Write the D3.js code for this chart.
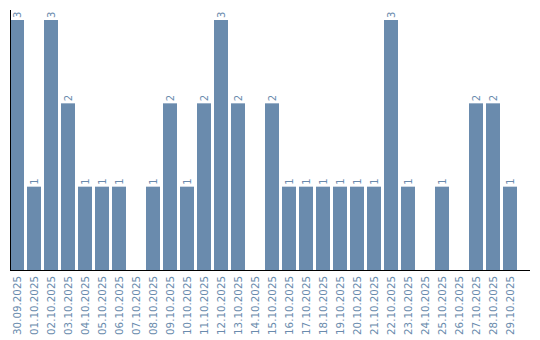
<!DOCTYPE html>
<html><head><meta charset="utf-8">
<script src="https://cdn.jsdelivr.net/npm/d3@7"></script>
<style>body{margin:0;background:#fff;} svg{display:block;}</style>
</head><body>
<script>
const categories = ["30.09.2025","01.10.2025","02.10.2025","03.10.2025","04.10.2025","05.10.2025","06.10.2025","07.10.2025","08.10.2025","09.10.2025","10.10.2025","11.10.2025","12.10.2025","13.10.2025","14.10.2025","15.10.2025","16.10.2025","17.10.2025","18.10.2025","19.10.2025","20.10.2025","21.10.2025","22.10.2025","23.10.2025","24.10.2025","25.10.2025","26.10.2025","27.10.2025","28.10.2025","29.10.2025"];
const values = [3,1,3,2,1,1,1,0,1,2,1,2,3,2,0,2,1,1,1,1,1,1,3,1,0,1,0,2,2,1];

const W = 540, H = 340;
const color = "#6a8bad";
const svg = d3.select("body").append("svg").attr("width", W).attr("height", H);

const x = d3.scaleBand().domain(categories).range([10, 517]).paddingInner(3/17).paddingOuter(0);
const y = d3.scaleLinear().domain([0, 3]).range([270, 20]);

const data = categories.map((c, i) => ({c, v: values[i]}));

svg.selectAll("rect.bar").data(data.filter(d => d.v > 0)).enter().append("rect")
  .attr("class", "bar")
  .attr("x", d => x(d.c)).attr("width", x.bandwidth())
  .attr("y", d => y(d.v)).attr("height", d => y(0) - y(d.v))
  .attr("fill", color);

svg.selectAll("text.val").data(data.filter(d => d.v > 0)).enter().append("text")
  .attr("class", "val")
  .attr("transform", d => `translate(${x(d.c) + x.bandwidth()/2},${y(d.v) - 2}) rotate(-90)`)
  .attr("dy", "0.35em")
  .attr("text-anchor", "start")
  .attr("font-family", "DejaVu Sans")
  .attr("font-size", 10)
  .attr("fill", color)
  .text(d => d.v);

// axes lines
svg.append("line").attr("x1", 10.5).attr("x2", 10.5).attr("y1", 10).attr("y2", 270).attr("stroke", "#000");
svg.append("line").attr("x1", 10).attr("x2", 530).attr("y1", 270.5).attr("y2", 270.5).attr("stroke", "#000");

svg.selectAll("text.tick").data(categories).enter().append("text")
  .attr("class", "tick")
  .attr("transform", d => `translate(${x(d) + x.bandwidth()/2},276) rotate(-90)`)
  .attr("dy", "0.35em")
  .attr("text-anchor", "end")
  .attr("font-family", "DejaVu Sans")
  .attr("font-size", 10.3)
  .attr("fill", color)
  .text(d => d);
</script>
</body></html>
